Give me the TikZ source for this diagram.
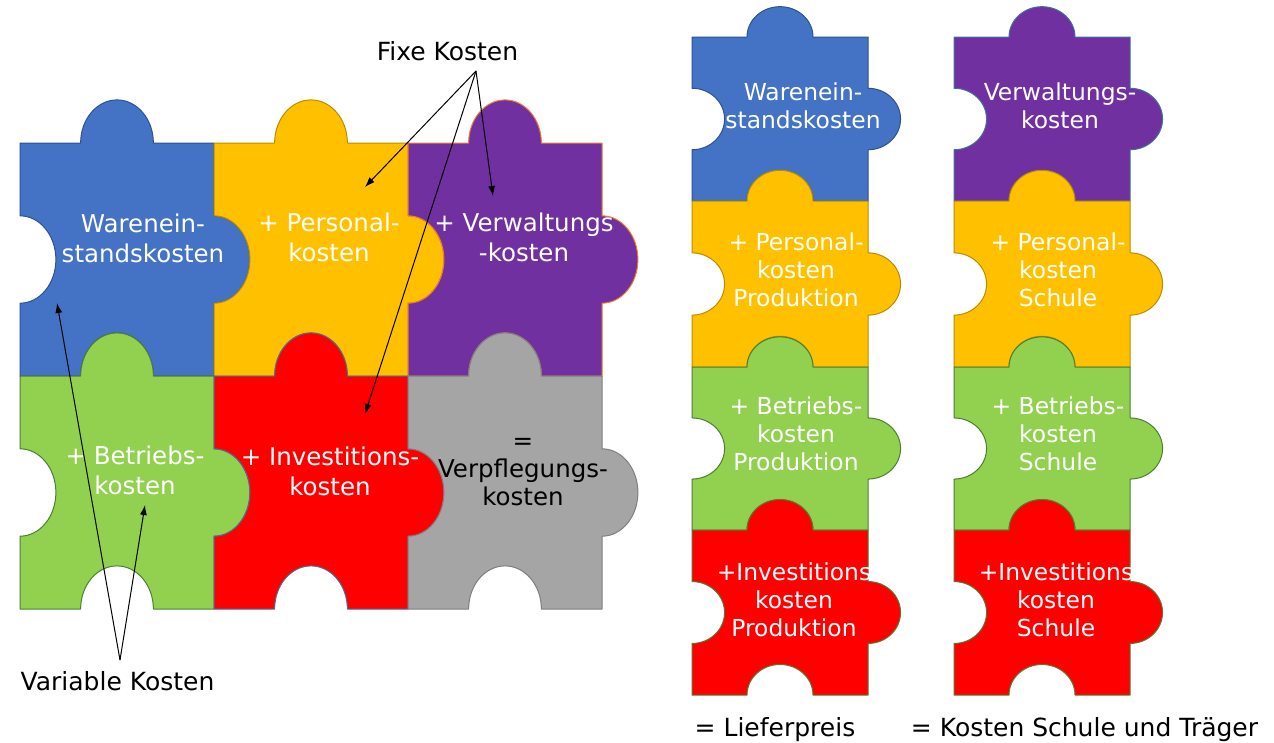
\documentclass[tikz,border=0pt]{standalone}
\usepackage{fontspec}
\setmainfont{DejaVu Sans}
\usetikzlibrary{arrows.meta}
\definecolor{pzBlue}{HTML}{4472C4}
\definecolor{pzBlueLine}{HTML}{2F528F}
\definecolor{pzYellow}{HTML}{FFC000}
\definecolor{pzYellowLine}{HTML}{BC8C00}
\definecolor{pzPurple}{HTML}{7030A0}
\definecolor{pzOrangeLine}{HTML}{ED7D31}
\definecolor{pzSteelLine}{HTML}{41719C}
\definecolor{pzGreen}{HTML}{92D050}
\definecolor{pzGreenLine}{HTML}{507E32}
\definecolor{pzRed}{HTML}{FF0000}
\definecolor{pzGrey}{HTML}{A5A5A5}
\definecolor{pzGreyLine}{HTML}{7F7F7F}
\newcommand\puzzle[5]{%
 \pgfmathsetmacro\pzXa{#1}%
 \pgfmathsetmacro\pzYa{#2}%
 \pgfmathsetmacro\pzXb{#1+#3}%
 \pgfmathsetmacro\pzYb{#2+#4}%
 \pgfmathsetmacro\pzCx{#1+0.5*#3}%
 \pgfmathsetmacro\pzCy{#2+0.5*#4}%
 \pgfmathsetmacro\pzA{0.1875*#3}%
 \pgfmathsetmacro\pzD{0.185*#4}%
 \pgfmathsetmacro\pzB{0.1875*#4}%
 \pgfmathsetmacro\pzE{0.185*#3}%
 \pgfmathsetmacro\pzK{0.5523}%
 \path[#5] (\pzXa,\pzYa) -- ({\pzCx-\pzA},\pzYa)
   .. controls ({\pzCx-\pzA},{\pzYa-\pzK*\pzD}) and ({\pzCx-\pzK*\pzA},{\pzYa-\pzD}) .. (\pzCx,{\pzYa-\pzD})
   .. controls ({\pzCx+\pzK*\pzA},{\pzYa-\pzD}) and ({\pzCx+\pzA},{\pzYa-\pzK*\pzD}) .. ({\pzCx+\pzA},\pzYa)
   -- (\pzXb,\pzYa) -- (\pzXb,{\pzCy-\pzB})
   .. controls ({\pzXb+\pzK*\pzE},{\pzCy-\pzB}) and ({\pzXb+\pzE},{\pzCy-\pzK*\pzB}) .. ({\pzXb+\pzE},\pzCy)
   .. controls ({\pzXb+\pzE},{\pzCy+\pzK*\pzB}) and ({\pzXb+\pzK*\pzE},{\pzCy+\pzB}) .. (\pzXb,{\pzCy+\pzB})
   -- (\pzXb,\pzYb) -- ({\pzCx+\pzA},\pzYb)
   .. controls ({\pzCx+\pzA},{\pzYb-\pzK*\pzD}) and ({\pzCx+\pzK*\pzA},{\pzYb-\pzD}) .. (\pzCx,{\pzYb-\pzD})
   .. controls ({\pzCx-\pzK*\pzA},{\pzYb-\pzD}) and ({\pzCx-\pzA},{\pzYb-\pzK*\pzD}) .. ({\pzCx-\pzA},\pzYb)
   -- (\pzXa,\pzYb) -- (\pzXa,{\pzCy+\pzB})
   .. controls ({\pzXa+\pzK*\pzE},{\pzCy+\pzB}) and ({\pzXa+\pzE},{\pzCy+\pzK*\pzB}) .. ({\pzXa+\pzE},\pzCy)
   .. controls ({\pzXa+\pzE},{\pzCy-\pzK*\pzB}) and ({\pzXa+\pzK*\pzE},{\pzCy-\pzB}) .. (\pzXa,{\pzCy-\pzB})
   -- cycle;
}
\begin{document}
\begin{tikzpicture}[x=1pt,y=-1pt,
  piece/.style={line width=1pt, line join=round},
  bigtxt/.style={anchor=north, inner sep=0pt, align=center, text=white,
     font=\fontsize{24.5}{29.5}\selectfont},
  smalltxt/.style={anchor=north, inner sep=0pt, align=center, text=white,
     font=\fontsize{23.4}{28}\selectfont},
  label/.style={anchor=base, inner sep=0pt, text=black,
     font=\fontsize{25}{29}\selectfont},
  arr/.style={line width=1pt, -{Latex[length=10pt,width=7pt]}}]
\useasboundingbox (0,0) rectangle (1274,742);
% ---------- left grid ----------
\puzzle{20}{143}{194}{233}{piece, fill=pzBlue, draw=pzBlueLine}
\puzzle{214}{143}{194}{233}{piece, fill=pzYellow, draw=pzYellowLine}
\puzzle{408}{143}{194}{233}{piece, fill=pzPurple, draw=pzOrangeLine}
\puzzle{20}{376}{194}{233}{piece, fill=pzGreen, draw=pzGreenLine}
\puzzle{214}{376}{194}{233}{piece, fill=pzRed, draw=pzSteelLine}
\puzzle{408}{376}{194}{233}{piece, fill=pzGrey, draw=pzGreyLine}
\node[bigtxt] (gWare) at (143,214) {Warenein-\\standskosten};
\node[bigtxt] (gPers) at (329,213) {+ Personal-\\kosten};
\node[bigtxt] (gVerw) at (524,213) {+ Verwaltungs\\-kosten};
\node[bigtxt] (gBetr) at (135,446) {+ Betriebs-\\kosten};
\node[bigtxt] (gInv) at (330,447) {+ Investitions-\\kosten};
\node[bigtxt, text=black, font=\fontsize{24.5}{28}\selectfont] (gVerpf) at (523,438) {=\\Verpflegungs-\\kosten};
% ---------- right column 1 ----------
\puzzle{692}{37}{176}{164}{piece, fill=pzBlue, draw=pzBlueLine}
\puzzle{692}{201}{176}{166}{piece, fill=pzYellow, draw=pzYellowLine}
\puzzle{692}{367}{176}{163}{piece, fill=pzGreen, draw=pzGreenLine}
\puzzle{692}{530}{176}{165}{piece, fill=pzRed, draw=pzGreenLine}
\node[smalltxt] (aWare) at (803,83) {Warenein-\\standskosten};
\node[smalltxt] (aPers) at (796,233) {+ Personal-\\kosten\\Produktion};
\node[smalltxt] (aBetr) at (796,397) {+ Betriebs-\\kosten\\Produktion};
\node[smalltxt] (aInv) at (794,563) {+Investitions\\kosten\\Produktion};
% ---------- right column 2 ----------
\puzzle{954}{37}{176}{164}{piece, fill=pzPurple, draw=pzSteelLine}
\puzzle{954}{201}{176}{166}{piece, fill=pzYellow, draw=pzYellowLine}
\puzzle{954}{367}{176}{163}{piece, fill=pzGreen, draw=pzGreenLine}
\puzzle{954}{530}{176}{165}{piece, fill=pzRed, draw=pzGreenLine}
\node[smalltxt] (bVerw) at (1060,83) {Verwaltungs-\\kosten};
\node[smalltxt] (bPers) at (1058,233) {+ Personal-\\kosten\\Schule};
\node[smalltxt] (bBetr) at (1058,397) {+ Betriebs-\\kosten\\Schule};
\node[smalltxt] (bInv) at (1056,563) {+Investitions\\kosten\\Schule};
% ---------- labels ----------
\node[label] (fixe) at (447.5,60) {Fixe Kosten};
\node[label] (vari) at (117.5,690) {Variable Kosten};
\node[label] (liefer) at (775,736) {= Lieferpreis};
\node[label] (schule) at (1084.5,736) {= Kosten Schule und Träger};
% ---------- arrows ----------
\coordinate (fixApex) at (476,71);
\coordinate (varApex) at (120,660);
\coordinate (tPers) at (365,187);
\coordinate (tVerw) at (493,196);
\coordinate (tInv) at (365,414);
\coordinate (tWare) at (57,303);
\coordinate (tBetr) at (145,505);
\draw[arr] (fixApex) -- (tPers);
\draw[arr] (fixApex) -- (tVerw);
\draw[arr] (fixApex) -- (tInv);
\draw[arr] (varApex) -- (tWare);
\draw[arr] (varApex) -- (tBetr);
\end{tikzpicture}
\end{document}
